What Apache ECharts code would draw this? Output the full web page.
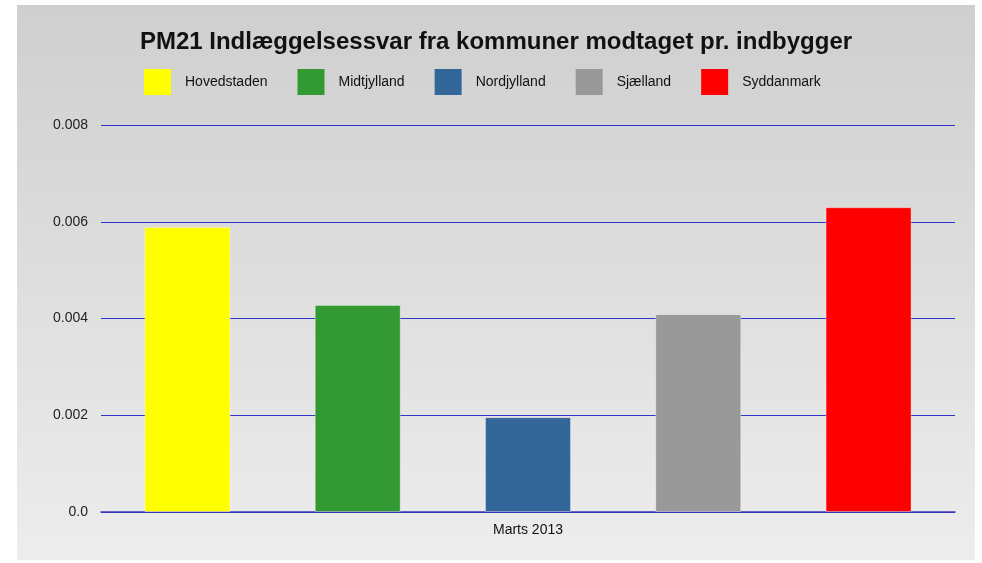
<!DOCTYPE html>
<html lang="da">
<head>
    <meta charset="UTF-8">
    <title>PM21 Indlæggelsessvar</title>
    <style>
        html, body { margin: 0; padding: 0; background: #fff; }
        #box { position: absolute; left: 17px; top: 5px; width: 958px; height: 555px; }
    </style>
</head>
<body>
    <div id="box"></div>
</body>
<script src="https://cdn.jsdelivr.net/npm/echarts@6/dist/echarts.min.js"></script>
<script>
    var periods = ['Marts 2013'];
    var regions = ['Hovedstaden', 'Midtjylland', 'Nordjylland', 'Sjælland', 'Syddanmark'];
    var regionColors = ['#ffff00', '#339933', '#336699', '#999999', '#ff0000'];
    var values = [0.00589, 0.00428, 0.00196, 0.00409, 0.0063];

    var box = echarts.init(document.getElementById('box'));

    // one bar series per region, all in the single month category
    var series = regions.map(function (name, i) {
        return {
            name: name,
            type: 'bar',
            barWidth: 86,
            barGap: '98%',
            itemStyle: {
                color: regionColors[i],
                borderColor: 'rgba(255,255,255,0.35)',
                borderWidth: 1
            },
            data: [values[i]]
        };
    });

    var option = {
        backgroundColor: {
            type: 'linear', x: 0, y: 0, x2: 0, y2: 1,
            colorStops: [
                { offset: 0, color: '#cfcfcf' },
                { offset: 1, color: '#ededed' }
            ]
        },
        textStyle: { fontFamily: 'Liberation Sans, Arial, sans-serif' },
        title: {
            text: 'PM21 Indlæggelsessvar fra kommuner modtaget pr. indbygger',
            left: 'center',
            top: 20,
            textStyle: { fontSize: 24, fontWeight: 'bold', color: '#111' }
        },
        legend: {
            left: 122,
            top: 59,
            itemWidth: 27,
            itemHeight: 26,
            itemGap: 30,
            icon: 'rect',
            itemStyle: { borderWidth: 0 },
            textStyle: { fontSize: 14, color: '#111', padding: [0, 0, 0, 9] },
            data: regions
        },
        grid: { left: 84, right: 20, top: 120, bottom: 48 },
        xAxis: {
            type: 'category',
            data: periods,
            axisTick: { show: false },
            axisLine: { lineStyle: { color: '#3a3ab8', width: 1.5 } },
            axisLabel: { fontSize: 14, color: '#111', margin: 11 }
        },
        yAxis: {
            type: 'value',
            min: 0,
            max: 0.008,
            interval: 0.002,
            axisLine: { show: false },
            axisTick: { show: false },
            axisLabel: {
                fontSize: 14,
                color: '#222',
                margin: 13,
                formatter: function (v) { return v === 0 ? '0.0' : v.toFixed(3); }
            },
            splitLine: { lineStyle: { color: '#3333cc', width: 1 } }
        },
        series: series
    };
    box.setOption(option);
</script>
</html>
